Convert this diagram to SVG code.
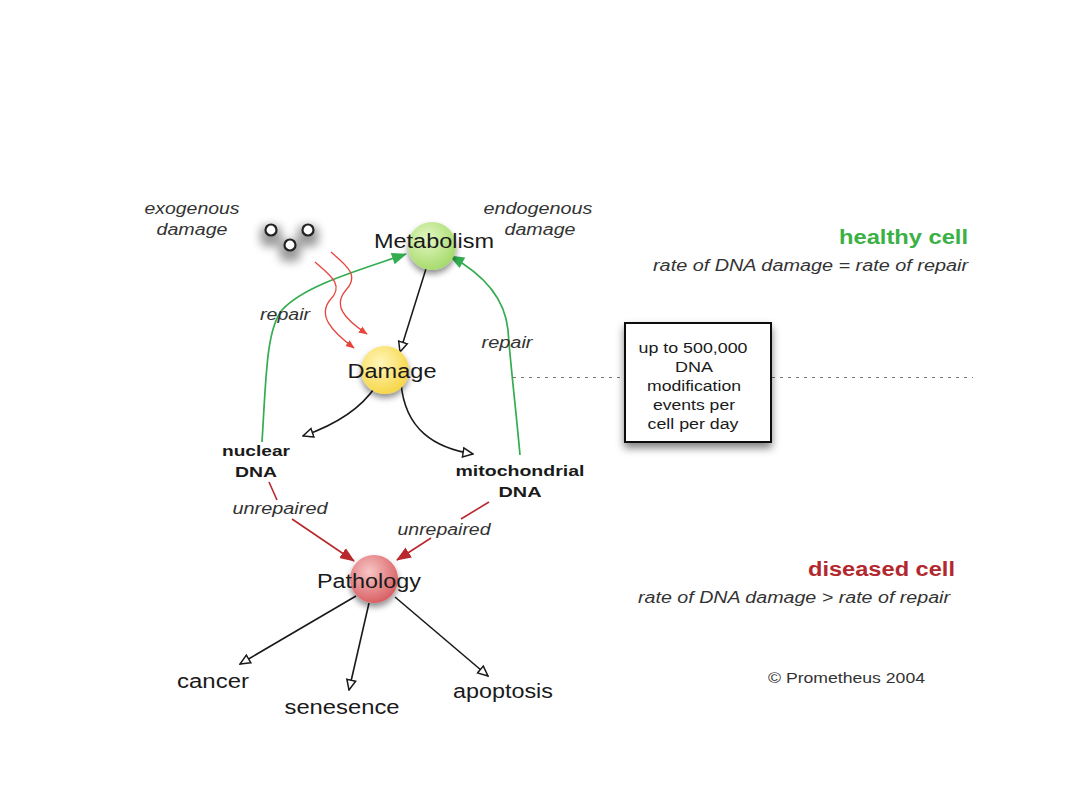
<svg xmlns="http://www.w3.org/2000/svg" width="1080" height="810" viewBox="0 0 1080 810">
<style>
text{font-family:"Liberation Sans",Arial,sans-serif;fill:#1a1a1a}
.it{font-style:italic;font-size:16px;fill:#333}
.node{font-size:20px}
.bold{font-weight:bold;font-size:15px}
.box{font-size:14px}
.blk{fill:none;stroke:#1a1a1a;stroke-width:1.6}
.grn{fill:none;stroke:#33ad50;stroke-width:1.7}
.red{fill:none;stroke:#e8453c;stroke-width:1.3}
.dred{fill:none;stroke:#b8282c;stroke-width:1.6}
</style>
<defs>
<marker id="open" viewBox="0 0 12 12" refX="11" refY="6" markerWidth="12" markerHeight="12" markerUnits="userSpaceOnUse" orient="auto">
<path d="M1,1.5 L11,6 L1,10.5 Z" fill="#fff" stroke="#1a1a1a" stroke-width="1.5"/>
</marker>
<marker id="ga" viewBox="0 0 14 12" refX="13" refY="6" markerWidth="16" markerHeight="13" markerUnits="userSpaceOnUse" orient="auto">
<path d="M0,0.5 L14,6 L0,11.5 Z" fill="#33ad50"/>
</marker>
<marker id="ra" viewBox="0 0 10 8" refX="9" refY="4" markerWidth="9" markerHeight="8" markerUnits="userSpaceOnUse" orient="auto">
<path d="M0,0 L10,4 L0,8 Z" fill="#e8453c"/>
</marker>
<marker id="da" viewBox="0 0 14 12" refX="13" refY="6" markerWidth="15" markerHeight="13" markerUnits="userSpaceOnUse" orient="auto">
<path d="M0,0.5 L14,6 L0,11.5 Z" fill="#b8282c"/>
</marker>
<radialGradient id="gG" cx="0.4" cy="0.35" r="0.7">
<stop offset="0" stop-color="#e4f7c4"/><stop offset="1" stop-color="#a3d967"/>
</radialGradient>
<radialGradient id="gY" cx="0.4" cy="0.35" r="0.7">
<stop offset="0" stop-color="#fff6b8"/><stop offset="1" stop-color="#f6d442"/>
</radialGradient>
<radialGradient id="gR" cx="0.4" cy="0.35" r="0.7">
<stop offset="0" stop-color="#f8c6c6"/><stop offset="1" stop-color="#d75a5e"/>
</radialGradient>
<filter id="sh" x="-50%" y="-50%" width="200%" height="200%">
<feGaussianBlur in="SourceAlpha" stdDeviation="3"/>
<feOffset dx="0" dy="4" result="b"/>
<feComponentTransfer><feFuncA type="linear" slope="0.45"/></feComponentTransfer>
<feMerge><feMergeNode/><feMergeNode in="SourceGraphic"/></feMerge>
</filter>
<filter id="shs" x="-100%" y="-100%" width="300%" height="300%">
<feMorphology in="SourceAlpha" operator="dilate" radius="4"/>
<feGaussianBlur stdDeviation="5"/>
<feOffset dx="0" dy="6"/>
<feComponentTransfer><feFuncA type="linear" slope="0.4"/></feComponentTransfer>
<feMerge><feMergeNode/><feMergeNode in="SourceGraphic"/></feMerge>
</filter>
<filter id="sh2" x="-50%" y="-50%" width="200%" height="200%">
<feGaussianBlur in="SourceAlpha" stdDeviation="4"/>
<feOffset dx="0" dy="5"/>
<feComponentTransfer><feFuncA type="linear" slope="0.5"/></feComponentTransfer>
<feMerge><feMergeNode/><feMergeNode in="SourceGraphic"/></feMerge>
</filter>
</defs>
<rect width="1080" height="810" fill="#fff"/>

<g id="connectors">
<line x1="513" y1="377.5" x2="625" y2="377.5" stroke="#777" stroke-width="1.2" stroke-dasharray="3,5"/>
<line x1="772" y1="377.5" x2="973" y2="377.5" stroke="#777" stroke-width="1.2" stroke-dasharray="3,5"/>
<path class="blk" d="M430,256 L400,352" marker-end="url(#open)"/>
<path class="blk" d="M376,386 C360,410 335,425 303,436" marker-end="url(#open)"/>
<path class="blk" d="M401,383 C405,430 435,448 473,454" marker-end="url(#open)"/>
<path class="grn" d="M262,442 C266,380 266,330 282,310 C305,285 360,270 406,254" marker-end="url(#ga)"/>
<path class="grn" d="M520,455 C516,410 510,360 508,330 C505,300 485,275 450,256" marker-end="url(#ga)"/>
<path class="red" d="M315,262 C330,275 345,285 330,300 C318,315 330,330 354,348" marker-end="url(#ra)"/>
<path class="red" d="M331,252 C346,265 360,275 346,290 C333,305 343,318 367,334" marker-end="url(#ra)"/>
<path class="dred" d="M269,482 L277,500"/>
<path class="dred" d="M292,519 L354,561" marker-end="url(#da)"/>
<path class="dred" d="M489,502 L461,519"/>
<path class="dred" d="M431,538 L397,560" marker-end="url(#da)"/>
<path class="blk" d="M356,596 L240,664" marker-end="url(#open)"/>
<path class="blk" d="M369,603 L349,690" marker-end="url(#open)"/>
<path class="blk" d="M395,597 L488,676" marker-end="url(#open)"/>
</g>

<g id="exogenous">
<text class="it" x="192" y="214" text-anchor="middle" textLength="95" lengthAdjust="spacingAndGlyphs">exogenous</text>
<text class="it" x="192" y="235" text-anchor="middle" textLength="71" lengthAdjust="spacingAndGlyphs">damage</text>
<g filter="url(#shs)">
<circle cx="271" cy="230" r="5.5" fill="#fff" stroke="#222" stroke-width="2.2"/>
<circle cx="308" cy="230" r="5.5" fill="#fff" stroke="#222" stroke-width="2.2"/>
<circle cx="290" cy="245" r="5.5" fill="#fff" stroke="#222" stroke-width="2.2"/>
</g>
</g>
<g id="endogenous">
<text class="it" x="538" y="214" text-anchor="middle" textLength="109" lengthAdjust="spacingAndGlyphs">endogenous</text>
<text class="it" x="540" y="235" text-anchor="middle" textLength="71" lengthAdjust="spacingAndGlyphs">damage</text>
</g>

<g id="metabolism">
<circle cx="432" cy="246" r="24" fill="url(#gG)" filter="url(#sh)"/>
<text class="node" x="434" y="248" text-anchor="middle" textLength="120" lengthAdjust="spacingAndGlyphs">Metabolism</text>
</g>
<g id="damage">
<circle cx="385" cy="370" r="24" fill="url(#gY)" filter="url(#sh)"/>
<text class="node" x="392" y="378" text-anchor="middle" textLength="89" lengthAdjust="spacingAndGlyphs">Damage</text>
</g>
<g id="pathology">
<circle cx="374" cy="579" r="24" fill="url(#gR)" filter="url(#sh)"/>
<text class="node" x="369" y="588" text-anchor="middle" textLength="104" lengthAdjust="spacingAndGlyphs">Pathology</text>
</g>

<g id="repair-left"><text class="it" x="285" y="320" text-anchor="middle" textLength="50" lengthAdjust="spacingAndGlyphs">repair</text></g>
<g id="repair-right"><text class="it" x="507" y="348" text-anchor="middle" textLength="51" lengthAdjust="spacingAndGlyphs">repair</text></g>

<g id="nuclear-dna">
<text class="bold" x="256" y="456" text-anchor="middle" textLength="68" lengthAdjust="spacingAndGlyphs">nuclear</text>
<text class="bold" x="256" y="477" text-anchor="middle" textLength="42" lengthAdjust="spacingAndGlyphs">DNA</text>
</g>
<g id="mito-dna">
<text class="bold" x="520" y="476" text-anchor="middle" textLength="129" lengthAdjust="spacingAndGlyphs">mitochondrial</text>
<text class="bold" x="520" y="497" text-anchor="middle" textLength="43" lengthAdjust="spacingAndGlyphs">DNA</text>
</g>
<g id="unrepaired-left"><text class="it" x="280" y="514" text-anchor="middle" textLength="95" lengthAdjust="spacingAndGlyphs">unrepaired</text></g>
<g id="unrepaired-right"><text class="it" x="444" y="535" text-anchor="middle" textLength="93" lengthAdjust="spacingAndGlyphs">unrepaired</text></g>

<g id="cancer"><text class="node" x="213" y="688" text-anchor="middle" textLength="72" lengthAdjust="spacingAndGlyphs">cancer</text></g>
<g id="senesence"><text class="node" x="342" y="714" text-anchor="middle" textLength="115" lengthAdjust="spacingAndGlyphs">senesence</text></g>
<g id="apoptosis"><text class="node" x="503" y="698" text-anchor="middle" textLength="100" lengthAdjust="spacingAndGlyphs">apoptosis</text></g>

<g id="healthy">
<text x="968" y="244" text-anchor="end" style="font-weight:bold;font-size:20px;fill:#3bb045" textLength="129" lengthAdjust="spacingAndGlyphs">healthy cell</text>
<text class="it" x="968" y="271" text-anchor="end" textLength="315" lengthAdjust="spacingAndGlyphs">rate of DNA damage = rate of repair</text>
</g>
<g id="diseased">
<text x="955" y="576" text-anchor="end" style="font-weight:bold;font-size:20px;fill:#b3282e" textLength="147" lengthAdjust="spacingAndGlyphs">diseased cell</text>
<text class="it" x="950" y="603" text-anchor="end" textLength="312" lengthAdjust="spacingAndGlyphs">rate of DNA damage &gt; rate of repair</text>
</g>

<g id="note">
<rect x="625" y="323" width="146" height="119" fill="#fff" stroke="#111" stroke-width="2" filter="url(#sh2)"/>
<text class="box" x="693" y="353" text-anchor="middle" textLength="109" lengthAdjust="spacingAndGlyphs">up to 500,000</text>
<text class="box" x="694" y="372" text-anchor="middle" textLength="38" lengthAdjust="spacingAndGlyphs">DNA</text>
<text class="box" x="694" y="391" text-anchor="middle" textLength="94" lengthAdjust="spacingAndGlyphs">modification</text>
<text class="box" x="694" y="410" text-anchor="middle" textLength="82" lengthAdjust="spacingAndGlyphs">events per</text>
<text class="box" x="693" y="429" text-anchor="middle" textLength="91" lengthAdjust="spacingAndGlyphs">cell per day</text>
</g>

<g id="copyright"><text x="768" y="683" style="font-size:14px;fill:#333" textLength="157" lengthAdjust="spacingAndGlyphs">© Prometheus 2004</text></g>
</svg>
